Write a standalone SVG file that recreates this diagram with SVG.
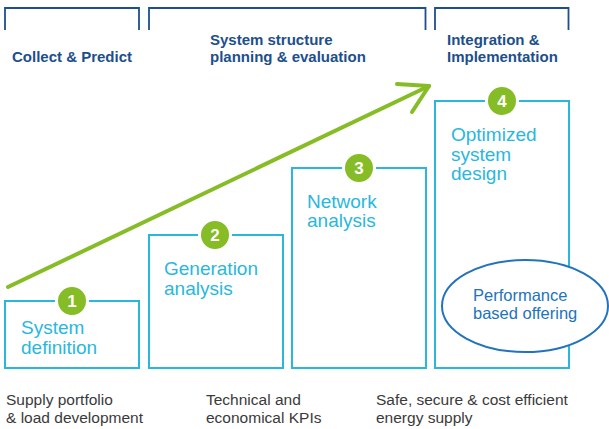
<svg xmlns="http://www.w3.org/2000/svg" width="609" height="429" viewBox="0 0 609 429">
<style>
.bracket{fill:none;stroke:#1d4f8c;stroke-width:1.8}
.hdr{font-family:"Liberation Sans",Arial,sans-serif;font-size:15px;font-weight:bold;fill:#1d4f8c}
.box{fill:none;stroke:#2ab7de;stroke-width:2}
.btxt{font-family:"Liberation Sans",Arial,sans-serif;font-size:19px;fill:#2ab7de}
.num{fill:#86bc25;stroke:#fff;stroke-width:3}
.ntxt{font-family:"Liberation Sans",Arial,sans-serif;font-size:17px;font-weight:bold;fill:#fff;text-anchor:middle}
.foot{font-family:"Liberation Sans",Arial,sans-serif;font-size:15.5px;fill:#3a3a3a}
.arrow{fill:none;stroke:#86bc25;stroke-width:4;stroke-linecap:round;stroke-linejoin:round}
.ell{fill:#fff;stroke:#2273bd;stroke-width:2}
.etxt{font-family:"Liberation Sans",Arial,sans-serif;font-size:16.5px;fill:#2273bd}
</style>
<rect width="609" height="429" fill="#fff"/>
<g id="phase-headers">
<path class="bracket" d="M5,30 V8 H139 V30"/>
<path class="bracket" d="M149,30 V8 H425.5 V30"/>
<path class="bracket" d="M435,30 V8 H568.5 V30"/>
<text class="hdr" x="12" y="62">Collect &amp; Predict</text>
<text class="hdr" x="210" y="45">System structure</text>
<text class="hdr" x="210" y="62">planning &amp; evaluation</text>
<text class="hdr" x="447" y="45">Integration &amp;</text>
<text class="hdr" x="447" y="62">Implementation</text>
</g>
<g id="connectors">
<path class="arrow" d="M8,287 L429,86"/>
<path class="arrow" d="M397,84 L429,86 L412,112"/>
</g>
<g id="step1">
<rect class="box" x="5" y="301" width="134" height="67"/>
<circle class="num" cx="72" cy="301" r="15.5"/>
<text class="ntxt" x="72" y="307">1</text>
<text class="btxt" x="21" y="334">System</text>
<text class="btxt" x="21" y="354">definition</text>
</g>
<g id="step2">
<rect class="box" x="149" y="235" width="134" height="133"/>
<circle class="num" cx="215" cy="235" r="15.5"/>
<text class="ntxt" x="215" y="241">2</text>
<text class="btxt" x="164" y="275">Generation</text>
<text class="btxt" x="164" y="295">analysis</text>
</g>
<g id="step3">
<rect class="box" x="292" y="168" width="134" height="200"/>
<circle class="num" cx="359" cy="168" r="15.5"/>
<text class="ntxt" x="359" y="174">3</text>
<text class="btxt" x="307" y="208">Network</text>
<text class="btxt" x="307" y="227">analysis</text>
</g>
<g id="step4">
<rect class="box" x="435" y="101" width="134" height="267"/>
<circle class="num" cx="502" cy="101" r="15.5"/>
<text class="ntxt" x="502" y="107">4</text>
<text class="btxt" x="451" y="141">Optimized</text>
<text class="btxt" x="451" y="161">system</text>
<text class="btxt" x="451" y="180">design</text>
</g>
<g id="performance">
<ellipse class="ell" cx="525" cy="306" rx="83" ry="46"/>
<text class="etxt" x="473" y="301">Performance</text>
<text class="etxt" x="473" y="319">based offering</text>
</g>
<g id="footnotes">
<text class="foot" x="6" y="405">Supply portfolio</text>
<text class="foot" x="6" y="423">&amp; load development</text>
<text class="foot" x="206" y="405">Technical and</text>
<text class="foot" x="206" y="423">economical KPIs</text>
<text class="foot" x="376" y="405">Safe, secure &amp; cost efficient</text>
<text class="foot" x="376" y="423">energy supply</text>
</g>
</svg>
